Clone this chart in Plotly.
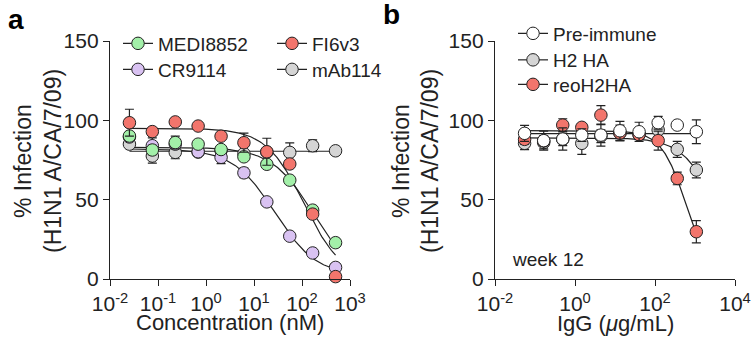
import numpy as np
import plotly.graph_objects as go

# ---------------- data: panel a ----------------
conc_nM = [0.0254, 0.0762, 0.229, 0.686, 2.06, 6.17, 18.5, 55.6, 166.7, 500]
medi8852 = [90.1, 81.3, 86.0, 85.0, 81.6, 77.0, 72.3, 62.3, 43.4, 22.9]
medi8852_err = [2, 3, 4, 2, 2, 2, 2, 2, 2, 2]
fi6v3 = [98.5, 92.9, 99.0, 96.4, 90.0, 85.9, 80.2, 72.5, 40.9, 1.5]
fi6v3_err = [8.5, 2, 2, 2, 2, 6, 8.5, 2, 2, 1]
cr9114 = [89.5, 84.0, 85.0, 80.2, 76.7, 66.9, 48.6, 27.0, 16.4, 7.3]
cr9114_err = [2, 5, 2, 3, 4, 3, 2, 2, 2, 2]
mab114 = [85.0, 77.5, 79.8, 80.0, 81.0, 79.0, 80.0, 79.8, 84.0, 80.8]
mab114_err = [2, 4.5, 4, 2, 2, 2, 2, 6, 3.7, 2]

# 4-parameter fit parameters (top, bottom, IC50, Hill)
fit_a = {
    "MEDI8852": (83.0, 0.0, 170.0, 1.0),
    "FI6v3": (95.0, 0.0, 110.0, 1.1),
    "CR9114": (82.0, 2.0, 27.0, 1.0),
    "mAb114": (80.5, 80.5, 100.0, 1.0),
}

# ---------------- data: panel b ----------------
igg_ugml = [0.0549, 0.165, 0.494, 1.48, 4.44, 13.3, 40.0, 120.0, 360.0, 1080.0]
pre_immune = [91.8, 87.2, 88.2, 90.7, 90.7, 93.4, 92.8, 98.5, 97.0, 92.8]
pre_immune_err = [5, 6, 7, 4, 7, 6, 6, 4, 2, 7.5]
h2ha = [85.5, 86.0, 88.0, 85.5, 90.0, 92.0, 91.0, 93.9, 81.7, 68.7]
h2ha_err = [4, 4, 4, 7, 4, 5, 3, 4, 5, 5]
reoh2ha = [88.0, 87.0, 97.0, 95.6, 103.3, 92.0, 91.0, 87.2, 63.4, 29.8]
reoh2ha_err = [3, 3, 4, 2, 6, 3, 3, 6, 4, 7]

fit_b = {
    "Pre-immune": (91.6, 91.6, 100.0, 1.0),
    "H2 HA": (89.0, 0.0, 3640.0, 1.0),
    "reoH2HA": (93.5, 0.0, 600.0, 1.4),
}

xtick_vals_a = [0.01, 0.1, 1, 10, 100, 1000]
xtick_text_a = ["10<sup>-2</sup>", "10<sup>-1</sup>", "10<sup>0</sup>",
                "10<sup>1</sup>", "10<sup>2</sup>", "10<sup>3</sup>"]
xtick_vals_b = [0.01, 1, 100, 10000]
xtick_text_b = ["10<sup>-2</sup>", "10<sup>0</sup>", "10<sup>2</sup>", "10<sup>4</sup>"]
ytick_vals = [0, 50, 100, 150]

# ---------------- styling ----------------
FONT = "Liberation Sans, Arial, Helvetica, sans-serif"
INK = "#222222"
GREEN = "#a3f0a9"
RED = "#f2756c"
PURPLE = "#d9c2f2"
GREY = "#d5d5d5"
WHITE = "#ffffff"
W, H = 756, 339


def fx(px):
    return px / W


def fy(py):
    return 1 - py / H


def fit_curve(x, params):
    top, bottom, ic50, hill = params
    xs = np.logspace(np.log10(x[0]), np.log10(x[-1]), 200)
    ys = bottom + (top - bottom) / (1 + (xs / ic50) ** hill)
    return xs, ys


fig = go.Figure()

# name, values, errors, colour, legend id, legend anchor (px left, px top)
series_a = [
    ("MEDI8852", medi8852, medi8852_err, GREEN, "legend", (118, 24.5)),
    ("FI6v3", fi6v3, fi6v3_err, RED, "legend2", (272, 24.5)),
    ("CR9114", cr9114, cr9114_err, PURPLE, "legend3", (118, 50.5)),
    ("mAb114", mab114, mab114_err, GREY, "legend4", (272, 50.5)),
]
series_b = [
    ("Pre-immune", pre_immune, pre_immune_err, WHITE, "legend5", (513, 14.5)),
    ("H2 HA", h2ha, h2ha_err, GREY, "legend6", (513, 41)),
    ("reoH2HA", reoh2ha, reoh2ha_err, RED, "legend7", (513, 65.5)),
]

# curves first (behind markers)
for name, y, err, col, lg, pos in series_a:
    xs, ys = fit_curve(conc_nM, fit_a[name])
    fig.add_trace(go.Scatter(x=xs, y=ys, mode="lines", xaxis="x", yaxis="y",
                             line=dict(color=INK, width=1.2), showlegend=False,
                             hoverinfo="skip"))
for name, y, err, col, lg, pos in series_b:
    xs, ys = fit_curve(igg_ugml, fit_b[name])
    fig.add_trace(go.Scatter(x=xs, y=ys, mode="lines", xaxis="x2", yaxis="y2",
                             line=dict(color=INK, width=1.2), showlegend=False,
                             hoverinfo="skip"))

marker_common = dict(size=12.5, line=dict(color=INK, width=1))
err_common = dict(type="data", color=INK, thickness=1.2, width=4.5, visible=True)

# plotting order: back to front similar to reference
for i in [3, 2, 0, 1]:
    name, y, err, col, lg, pos = series_a[i]
    fig.add_trace(go.Scatter(x=conc_nM, y=y, mode="markers", xaxis="x", yaxis="y",
                             marker=dict(color=col, **marker_common),
                             error_y=dict(array=err, **err_common),
                             cliponaxis=False, showlegend=False, name=name))
for i in [1, 2, 0]:
    name, y, err, col, lg, pos = series_b[i]
    fig.add_trace(go.Scatter(x=igg_ugml, y=y, mode="markers", xaxis="x2", yaxis="y2",
                             marker=dict(color=col, **marker_common),
                             error_y=dict(array=err, **err_common),
                             cliponaxis=False, showlegend=False, name=name))

legend_layouts = {}
for (name, y, err, col, lg, pos), ax in ([(s, ("x", "y")) for s in series_a] +
                                         [(s, ("x2", "y2")) for s in series_b]):
    fig.add_trace(go.Scatter(x=[None], y=[None], mode="lines+markers", name=name,
                             xaxis=ax[0], yaxis=ax[1], legend=lg,
                             line=dict(color=INK, width=1.2),
                             marker=dict(color=col, **marker_common)))
    legend_layouts[lg] = dict(x=fx(pos[0]), y=fy(pos[1]), xanchor="left", yanchor="top",
                              bgcolor="rgba(0,0,0,0)",
                              font=dict(family=FONT, size=19, color=INK))

axis_common = dict(showline=True, linecolor=INK, linewidth=1.3, ticks="outside",
                   ticklen=6, tickwidth=1.3, tickcolor=INK, showgrid=False,
                   zeroline=False, automargin=False,
                   tickfont=dict(family=FONT, size=21, color=INK))

ydom = [fy(279), fy(41)]
fig.update_layout(
    width=W, height=H,
    margin=dict(l=0, r=0, t=0, b=0, pad=0, autoexpand=False),
    paper_bgcolor="white", plot_bgcolor="white",
    font=dict(family=FONT, color=INK),
    xaxis=dict(domain=[fx(110), fx(350)], type="log", range=[-2, 3],
               tickvals=xtick_vals_a, ticktext=xtick_text_a, anchor="y", **axis_common),
    yaxis=dict(domain=ydom, range=[0, 150], tickvals=ytick_vals, anchor="x", **axis_common),
    xaxis2=dict(domain=[fx(495), fx(735)], type="log", range=[-2, 4],
                tickvals=xtick_vals_b, ticktext=xtick_text_b, anchor="y2", **axis_common),
    yaxis2=dict(domain=ydom, range=[0, 150], tickvals=ytick_vals, anchor="x2", **axis_common),
    showlegend=True,
    **legend_layouts,
)

ann = []
ann.append(dict(text="<b>a</b>", x=fx(6), y=fy(19), xanchor="left", yanchor="middle",
                font=dict(family=FONT, size=28, color="black")))
ann.append(dict(text="<b>b</b>", x=fx(381), y=fy(14), xanchor="left", yanchor="middle",
                font=dict(family=FONT, size=28, color="black")))
ytitle_lines = ["% Infection", "(H1N1 A/CA/7/09)"]
for xs_px in ([23, 53], [401, 430]):
    for line_txt, xp in zip(ytitle_lines, xs_px):
        ann.append(dict(text=line_txt, x=fx(xp), y=fy(161), textangle=-90,
                        xanchor="center", yanchor="middle",
                        font=dict(family=FONT, size=23, color=INK)))
ann.append(dict(text="Concentration (nM)", x=fx(230), y=fy(322), xanchor="center",
                yanchor="middle", font=dict(family=FONT, size=22, color=INK)))
ann.append(dict(text="IgG (<i>μ</i>g/mL)", x=fx(615), y=fy(323), xanchor="center",
                yanchor="middle", font=dict(family=FONT, size=22, color=INK)))
ann.append(dict(text="week 12", x=fx(510), y=fy(259), xanchor="left",
                yanchor="middle", font=dict(family=FONT, size=19, color=INK)))
for a in ann:
    a.update(xref="paper", yref="paper", showarrow=False)
fig.update_layout(annotations=ann)

fig.write_html("out.html",
               config={"displayModeBar": False},
               post_script="document.body.style.margin='0px';"
                           "document.body.style.overflow='hidden';")
